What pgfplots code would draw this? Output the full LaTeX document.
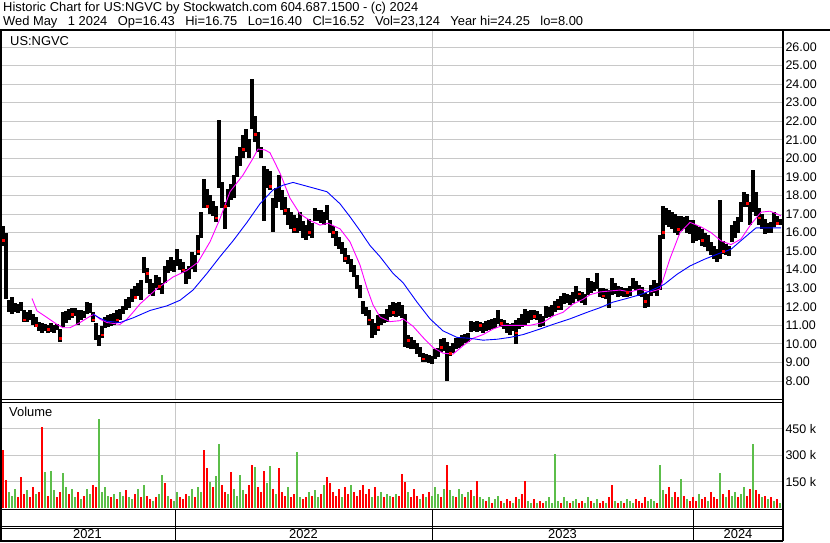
\documentclass[border=0pt]{standalone}
\usepackage{fontspec}
\setmainfont{Liberation Sans}
\usepackage{pgfplots}
\pgfplotsset{compat=1.18}
\usepackage{pgfplotstable}

\definecolor{gridgray}{RGB}{200,200,200}
\definecolor{vred}{RGB}{255,0,0}
\definecolor{vgreen}{RGB}{92,190,74}
\definecolor{maone}{RGB}{255,0,255}
\definecolor{matwo}{RGB}{0,0,255}

\pgfplotstableread{
x lo hi
3 15.3 16.35
6 12.4 16.0
9 11.7 12.35
12 11.6 12.5
15 11.7 12.2
18 11.65 12.15
21 11.75 12.25
24 11.2 11.85
27 11.2 11.7
30 11.3 11.85
33 11.0 11.6
36 10.9 11.45
39 10.7 11.2
42 10.6 11.1
45 10.7 11.05
48 10.6 11.0
51 10.65 11.1
54 10.6 11.0
57 10.75 11.05
60 10.1 10.8
63 10.9 11.7
66 11.1 11.75
69 11.3 11.9
72 11.4 11.95
75 11.5 11.95
78 11.0 11.8
81 11.3 11.8
84 11.4 11.75
87 11.6 12.25
90 11.65 12.2
93 11.2 11.7
96 10.2 11.1
99 9.9 10.5
102 10.3 10.95
105 10.85 11.45
108 10.9 11.55
111 10.95 11.6
114 11.0 11.65
117 11.15 11.8
120 11.3 11.9
123 11.6 12.05
126 11.85 12.4
129 11.95 12.5
132 12.25 12.95
135 12.4 13.1
138 12.6 13.3
141 12.35 13.45
144 13.8 14.7
147 13.3 14.1
150 12.7 13.5
153 12.6 13.3
156 13.0 13.7
159 12.9 13.6
162 12.7 13.3
165 13.3 14.2
168 13.8 14.5
171 13.95 14.7
174 13.9 14.5
177 14.2 15.1
180 14.0 14.6
183 13.8 14.4
186 13.25 14.05
189 13.5 14.2
192 14.05 14.95
195 13.9 14.8
198 14.8 15.85
201 15.7 17.1
204 17.3 18.9
207 17.3 18.35
210 17.0 18.0
213 16.9 17.7
216 16.55 17.45
219 18.4 22.05
222 17.3 18.75
225 16.2 17.65
228 17.4 18.35
231 17.75 18.6
234 17.85 19.1
237 19.0 20.15
240 19.6 20.6
243 20.0 21.25
246 20.35 21.6
249 20.0 21.05
252 21.6 24.3
255 20.9 22.3
258 20.35 21.4
261 20.0 20.6
264 16.6 19.6
267 18.4 19.4
270 18.3 19.3
273 16.05 17.85
276 17.3 18.4
279 17.65 19.1
282 17.2 18.3
285 16.95 17.9
288 16.4 17.3
291 16.2 17.1
294 16.0 16.95
297 15.95 16.8
300 16.1 17.1
303 15.7 16.6
306 15.6 16.4
309 15.8 16.75
312 15.7 16.5
315 16.6 17.3
318 16.6 17.2
321 16.5 17.2
324 16.4 17.1
327 16.65 17.5
330 16.0 16.7
333 15.7 16.35
336 15.3 16.1
339 15.1 15.75
342 14.85 15.5
345 14.4 15.15
348 14.3 14.8
351 13.9 14.6
354 13.6 14.25
357 12.95 13.7
360 12.45 13.15
363 11.6 12.3
366 11.5 12.0
369 11.0 11.8
372 10.3 11.35
375 10.5 11.1
378 10.7 11.55
381 11.0 11.6
384 11.1 11.6
387 11.2 11.9
390 11.45 12.1
393 11.5 12.25
396 11.45 12.2
399 11.5 12.25
402 11.4 12.1
405 9.85 11.6
408 9.8 10.5
411 9.75 10.35
414 9.7 10.2
417 9.45 10.05
420 9.3 9.85
423 9.0 9.5
426 9.0 9.45
429 8.95 9.4
432 8.9 9.35
435 9.2 9.7
438 9.3 9.8
441 9.55 10.25
444 9.6 10.3
447 8.0 10.1
450 9.35 9.9
453 9.5 10.05
456 9.7 10.3
459 9.8 10.35
462 9.9 10.5
465 10.05 10.55
468 10.1 10.6
471 10.65 11.25
474 10.7 11.2
477 10.65 11.25
480 10.7 11.2
483 10.6 11.1
486 10.7 11.25
489 10.75 11.3
492 10.8 11.35
495 10.85 11.4
498 11.05 11.85
501 10.9 11.35
504 10.8 11.3
507 10.6 11.1
510 10.5 11.05
513 10.7 11.15
516 10.0 11.3
519 10.8 11.4
522 10.9 11.6
525 11.0 11.9
528 11.15 11.75
531 11.3 11.85
534 11.35 11.8
537 11.3 11.75
540 10.9 11.6
543 10.95 11.5
546 11.4 12.05
549 11.45 12.0
552 11.5 12.1
555 11.7 12.3
558 11.8 12.4
561 11.85 12.6
564 12.15 12.75
567 12.2 12.7
570 12.1 12.65
573 12.2 12.8
576 12.4 13.1
579 12.3 12.85
582 12.2 12.8
585 12.1 12.7
588 12.65 13.55
591 12.75 13.4
594 12.85 13.35
597 12.95 13.8
600 12.5 13.0
603 12.45 13.0
606 12.4 12.95
609 11.95 12.9
612 12.65 13.55
615 12.7 13.3
618 12.55 13.1
621 12.6 13.05
624 12.5 13.0
627 12.55 13.0
630 12.6 13.1
633 12.95 13.55
636 12.9 13.4
639 12.6 13.15
642 12.5 13.05
645 11.95 12.75
648 12.0 12.7
651 12.6 13.2
654 12.75 13.45
657 12.6 13.3
660 12.9 15.85
663 15.65 17.45
666 16.4 17.3
669 16.3 17.2
672 16.2 17.1
675 16.0 17.0
678 15.85 16.9
681 16.1 16.9
684 16.2 16.85
687 16.0 16.9
690 15.9 16.7
693 15.45 16.65
696 15.55 16.4
699 15.6 16.3
702 15.3 16.2
705 15.2 16.0
708 15.0 15.85
711 14.8 15.5
714 14.55 15.3
717 14.4 15.1
720 14.55 17.75
723 14.85 15.55
726 14.8 15.4
729 14.75 15.3
732 15.5 16.4
735 15.7 16.6
738 15.95 16.85
741 16.55 17.65
744 17.35 18.2
747 17.4 18.1
750 16.4 17.65
753 17.1 19.35
756 16.9 18.2
759 16.4 17.3
762 16.2 17.0
765 15.9 16.75
768 16.0 16.5
771 15.95 16.55
774 16.3 17.1
777 16.4 16.9
780 16.4 16.75
}\pricedata

\pgfplotstableread{
x c
3 15.6
24 11.3
36 11.0
48 10.8
60 10.3
72 11.6
93 11.3
102 10.5
117 11.3
135 12.5
147 13.8
159 13.1
183 14.0
198 15.0
207 17.4
216 16.8
225 17.4
243 20.5
255 21.3
270 18.5
285 17.2
294 16.2
309 16.0
333 16.0
345 14.6
369 11.3
378 10.9
393 11.7
408 10.2
423 9.2
441 9.8
450 9.5
480 11.0
501 11.1
516 10.6
534 11.5
558 12.0
579 12.7
603 12.6
627 12.8
645 12.3
663 16.0
678 16.2
702 15.6
723 15.0
747 17.6
759 16.8
777 16.5
}\closedots

\pgfplotstableread{
x m
32 12.45
37 11.78
47 11.42
57 11.05
63 10.87
70 10.87
80 11.15
88 11.42
94 11.6
100 11.33
107 11.15
120 11.05
127 11.33
133 11.7
140 12.15
157 12.98
173 13.6
187 13.96
198 14.4
210 15.5
220 16.75
230 18.2
243 19.1
253 20.0
258 20.5
265 20.45
270 20.3
280 19.2
290 17.85
300 17.0
310 16.65
320 16.4
328 16.5
340 16.2
350 15.5
360 14.25
367 13.0
373 12.1
380 11.45
390 11.2
400 11.25
403 11.35
413 10.95
423 10.35
433 9.8
443 9.5
453 9.45
463 9.9
473 10.3
483 10.5
493 10.8
503 11.0
515 11.0
530 11.0
543 11.15
553 11.5
563 11.7
573 12.15
583 12.4
590 12.65
600 12.8
610 12.85
620 12.9
630 12.8
640 12.95
650 12.8
660 12.95
670 14.6
680 16.0
690 16.55
701 16.3
711 16.0
721 15.55
731 15.35
741 15.65
751 16.45
761 17.1
770 17.15
777 17.0
781 16.9
}\maone

\pgfplotstableread{
x m
93 11.6
100 11.38
107 11.22
120 11.15
133 11.4
150 11.8
167 12.05
180 12.35
193 12.9
207 13.8
220 14.7
233 15.55
247 16.55
260 17.55
273 18.3
283 18.55
293 18.7
310 18.45
327 18.2
340 17.55
350 16.85
360 16.1
370 15.3
380 14.7
393 13.8
403 13.3
417 12.25
430 11.35
443 10.7
457 10.35
470 10.3
483 10.2
497 10.25
510 10.35
523 10.5
540 10.8
553 11.05
570 11.35
587 11.7
600 11.95
613 12.25
627 12.45
640 12.65
650 12.85
664 13.2
677 13.75
690 14.2
704 14.55
718 14.85
731 15.1
745 15.75
756 16.25
781 16.25
}\matwo

\pgfplotstableread{
x v
3 330
6 160
18 60
21 175
24 80
30 60
33 120
39 90
42 460
48 70
57 60
60 90
69 80
78 90
84 70
93 130
96 120
111 60
117 50
126 100
135 80
141 60
147 70
150 50
156 60
165 145
171 50
180 60
183 50
186 80
195 60
204 330
207 230
213 120
222 130
225 90
231 205
246 80
249 130
252 245
258 120
261 90
264 210
273 110
279 225
282 90
285 70
291 60
294 80
303 50
306 60
312 70
321 80
327 175
330 140
333 90
336 70
339 110
345 120
348 80
354 90
357 70
360 100
363 130
366 80
369 110
375 120
384 60
393 60
399 70
402 195
405 150
411 60
414 110
417 70
423 80
429 90
441 60
447 245
456 60
465 60
471 100
477 155
486 40
492 30
501 40
507 50
510 40
516 60
522 80
525 155
534 50
540 40
543 30
561 30
570 30
579 30
582 40
591 40
600 30
603 40
609 60
612 130
618 30
624 30
636 50
639 40
642 30
645 60
657 30
666 80
669 120
675 90
678 60
684 70
690 40
693 60
696 40
702 50
705 60
711 90
714 60
717 50
723 80
729 100
738 60
747 70
750 110
756 100
759 80
765 70
771 60
777 50
}\volred

\pgfplotstableread{
x v
9 90
12 70
15 110
27 100
36 80
45 205
51 210
54 100
63 200
66 120
72 110
75 60
81 50
87 110
90 80
99 505
102 90
105 120
108 70
114 80
120 90
123 70
129 60
132 50
138 110
144 130
153 40
159 80
162 190
168 70
174 40
177 90
189 70
192 110
198 120
201 90
210 150
216 180
219 366
228 80
234 110
237 70
240 185
243 100
255 235
267 140
270 240
276 80
288 120
297 320
300 60
309 90
315 100
318 60
324 130
342 60
351 130
372 60
378 70
381 90
387 80
390 70
396 80
408 90
420 50
426 60
432 70
435 120
438 80
444 110
450 100
453 70
459 110
462 80
468 90
474 70
480 60
483 50
489 60
495 50
498 70
504 30
513 30
519 50
528 40
531 30
537 30
546 40
549 60
552 30
555 305
558 40
564 60
567 40
573 40
576 50
585 30
588 60
594 30
597 50
606 30
615 40
621 40
627 50
630 40
633 30
648 40
651 50
654 40
660 245
663 100
672 60
681 165
687 50
699 80
708 40
720 200
726 60
732 70
735 90
741 80
744 120
753 366
762 60
768 50
774 40
780 30
}\volgreen

\newcommand{\gap}{\hspace*{10.5bp}}

\begin{document}
\begin{tikzpicture}[x=1bp, y=1bp, font=\fontsize{12.9bp}{15bp}\selectfont]
\useasboundingbox (0,0) rectangle (830,543);

% header
\node[anchor=base west, inner sep=0] at (3,531) {Historic Chart for US:NGVC by Stockwatch.com 604.687.1500 - (c) 2024};
\node[anchor=base west, inner sep=0] at (3,517) {Wed May\gap1 2024\gap Op=16.43\gap Hi=16.75\gap Lo=16.40\gap Cl=16.52\gap Vol=23,124\gap Year hi=24.25\gap lo=8.00};

% price panel
\begin{axis}[
  at={(1bp,144bp)}, anchor=south west, scale only axis,
  width=781bp, height=368bp,
  xmin=1, xmax=782, ymin=7.03, ymax=26.862,
  axis line style={draw=none},
  xtick={175,432,693}, xticklabels={},
  ytick={8,9,...,26},
  grid=major, grid style={gridgray, line width=0.9bp},
  major tick length=0pt,
  yticklabel pos=right,
  tick label style={font=\fontsize{12.5bp}{14bp}\selectfont},
  yticklabel style={/pgf/number format/.cd, fixed, fixed zerofill, precision=2, assume math mode=true},
]
\addplot[draw=none, mark=none,
  error bars/.cd, y dir=both, y explicit, error mark=none,
  error bar style={draw=black, solid, line width=3.2bp}]
  table[x=x, y expr={(\thisrow{lo}+\thisrow{hi})/2}, y error expr={(\thisrow{hi}-\thisrow{lo})/2}] {\pricedata};
\addplot[only marks, mark=square*, mark size=0.9bp, vred, mark options={draw=vred, fill=vred}] table[x=x, y=c] {\closedots};
\addplot[maone, line width=0.9bp, mark=none] table[x=x, y=m] {\maone};
\addplot[matwo, line width=0.9bp, mark=none] table[x=x, y=m] {\matwo};
\end{axis}

% volume panel
\begin{axis}[
  at={(1bp,35bp)}, anchor=south west, scale only axis,
  width=781bp, height=106bp,
  xmin=1, xmax=782, ymin=0, ymax=603,
  axis line style={draw=none},
  xtick={175,432,693}, xticklabels={},
  ytick={150,300,450}, yticklabels={150 k,300 k,450 k},
  grid=major, grid style={gridgray, line width=0.9bp},
  major tick length=0pt,
  yticklabel pos=right,
  tick label style={font=\fontsize{12.5bp}{14bp}\selectfont},
]
\addplot[ycomb, vred, line width=2.6bp, mark=none] table[x=x, y=v] {\volred};
\addplot[ycomb, vgreen, line width=2.6bp, mark=none] table[x=x, y=v] {\volgreen};
\end{axis}

% labels in panels
\node[anchor=base west, inner sep=0] at (10,497) {US:NGVC};
\node[anchor=base west, inner sep=0] at (9,126) {Volume};

% frame
\draw[line width=2bp] (0,513) -- (830,513);
\draw[line width=2bp] (1,1.5) -- (1,513);
\draw[line width=2bp] (783,1.5) -- (783,513);
\draw[line width=1.3bp] (0,143.8) -- (783,143.8);
\draw[line width=1.3bp] (0,140.6) -- (783,140.6);
\draw[line width=1.6bp] (0,33.5) -- (783,33.5);
\draw[line width=1bp] (0,16.6) -- (783,16.6);
\draw[line width=1bp] (0,14.6) -- (783,14.6);
\draw[line width=1.6bp] (0,2) -- (783,2);
\foreach \xx in {175,432,693} {\draw[line width=1bp] (\xx,2) -- (\xx,33.5);}

% years
\node at (87.5,8.6) {2021};
\node at (303.5,8.6) {2022};
\node at (562.5,8.6) {2023};
\node at (738,8.6) {2024};
\end{tikzpicture}
\end{document}
